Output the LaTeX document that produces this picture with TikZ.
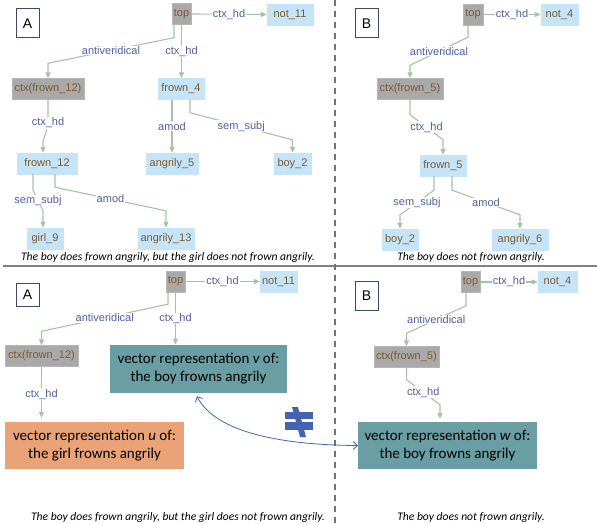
\documentclass[tikz,border=0pt]{standalone}
\usepackage{fontspec}
\setmainfont{Liberation Sans}
\newfontfamily\calfont{Carlito}
\usetikzlibrary{arrows.meta}
\definecolor{nodegray}{RGB}{169,169,169}
\definecolor{nodeblue}{RGB}{198,228,248}
\definecolor{nodebrown}{RGB}{125,90,45}
\definecolor{edgegreen}{RGB}{163,196,160}
\definecolor{lblblue}{RGB}{79,96,163}
\definecolor{panelblue}{RGB}{59,74,107}
\definecolor{vteal}{RGB}{104,158,164}
\definecolor{vorange}{RGB}{233,163,118}
\definecolor{neqblue}{RGB}{68,100,178}
\begin{document}
\begin{tikzpicture}[x=1pt, y=-1pt, >={Triangle[length=6pt,width=5pt]},
    gnode/.style={fill=nodegray, draw=nodegray!85!white, text=nodebrown, minimum height=21pt, inner sep=0pt, font=\fontsize{11}{13}\selectfont},
    bnode/.style={gnode, fill=nodeblue, draw=nodeblue},
    dep/.style={->, draw=edgegreen, line width=1.1pt},
    lbl/.style={fill=white, inner sep=0.8pt, text=lblblue, font=\fontsize{11}{13}\selectfont},
    vbox/.style={minimum width=178pt, minimum height=47pt, align=center, inner sep=0pt, font=\calfont\fontsize{15}{18}\selectfont},
    capt/.style={font=\calfont\itshape\fontsize{11.6}{13}\selectfont},
    panel/.style={draw=panelblue, fill=white, line width=1pt, minimum width=23pt, inner sep=0pt, font=\fontsize{14}{16}\selectfont}]
\useasboundingbox (0,0) rectangle (597,524);

% separators
\draw[black!50, line width=1.5pt] (3,266)--(597,266);
\draw[black!55, line width=1.2pt, dash pattern=on 6pt off 5pt] (335,0)--(335,524);

% panel letters
\node[panel, minimum height=29pt] (pA) at (27.5,23.5) {A};
\node[panel, minimum height=29pt] (pB) at (366.5,23.5) {B};
\node[panel, minimum height=23pt] (pC) at (27.5,294.5) {A};
\node[panel, minimum height=29pt] (pD) at (366.5,295.5) {B};

% top left graph
\node[gnode, minimum width=19pt] (tA) at (181.5,14) {top};
\node[bnode, minimum width=46pt] (nA) at (290,14.5) {not\_11};
\node[gnode, minimum width=72pt] (cA) at (48,89) {ctx(frown\_12)};
\node[bnode, minimum width=46pt] (f4) at (181,89) {frown\_4};
\node[bnode, minimum width=52pt] (a5) at (172,163.5) {angrily\_5};
\node[bnode, minimum width=37pt] (b2) at (292.5,163.5) {boy\_2};
\node[bnode, minimum width=60pt] (f12) at (47,163.5) {frown\_12};
\node[bnode, minimum width=36pt] (g9) at (45,238.5) {girl\_9};
\node[bnode, minimum width=56pt] (a13) at (166,238.5) {angrily\_13};

\draw[dep] (tA.east) -- node[lbl]{ctx\_hd} (nA.west);
\draw[dep] ([xshift=-7.5pt]tA.south) -- ++(0,13) -- node[lbl]{antiveridical} ([yshift=15pt]cA.north) -- (cA.north);
\draw[dep] (tA.south) -- node[lbl]{ctx\_hd} (tA.south |- f4.north);
\draw[dep] ([xshift=-9pt]f4.south) -- node[lbl]{amod} (a5.north);
\draw[dep] ([xshift=9pt]f4.south) -- ++(0,13) -- node[lbl]{sem\_subj} ([yshift=13pt]b2.north) -- (b2.north);
\draw[dep] (cA.south) -- node[lbl, pos=.9]{ctx\_hd} ++(0,26) -- ([xshift=-4pt,yshift=12pt]f12.north) -- ([xshift=-4pt]f12.north);
\draw[dep] ([xshift=-14pt]f12.south) -- ++(0,16) -- node[lbl]{sem\_subj} ([xshift=-2pt,yshift=17pt]g9.north) -- ([xshift=-2pt]g9.north);
\draw[dep] ([xshift=8pt]f12.south) -- ++(0,13) -- node[lbl]{amod} ([yshift=17pt]a13.north) -- (a13.north);
\node[capt] (capA) at (168,257) {The boy does frown angrily, but the girl does not frown angrily.};

% top right graph
\node[gnode, minimum width=20pt] (tB) at (473,14.5) {top};
\node[bnode, minimum width=37pt] (nB) at (559.5,14.5) {not\_4};
\node[gnode, minimum width=66pt] (cB) at (410,89) {ctx(frown\_5)};
\node[bnode, minimum width=46pt] (f5) at (443,165.5) {frown\_5};
\node[bnode, minimum width=36pt] (b2B) at (400,239.5) {boy\_2};
\node[bnode, minimum width=56pt] (a6) at (520,239.5) {angrily\_6};

\draw[dep] (tB.east) -- node[lbl]{ctx\_hd} (nB.west);
\draw[dep] ([xshift=-5pt]tB.south) -- ++(0,12) -- node[lbl]{antiveridical} ([yshift=13pt]cB.north) -- (cB.north);
\draw[dep] (cB.south) -- ++(0,15) -- node[lbl]{ctx\_hd} ([yshift=15pt]f5.north) -- (f5.north);
\draw[dep] ([xshift=-9pt]f5.south) -- ++(0,14) -- node[lbl]{sem\_subj} ([yshift=14pt]b2B.north) -- (b2B.north);
\draw[dep] ([xshift=9pt]f5.south) -- ++(0,14) -- node[lbl]{amod} ([yshift=14pt]a6.north) -- (a6.north);
\node[capt] (capB) at (471,257) {The boy does not frown angrily.};

% bottom left graph
\node[gnode, minimum width=19pt] (tC) at (175.5,281.5) {top};
\node[bnode, minimum width=37pt] (nC) at (278.5,281.5) {not\_11};
\node[gnode, minimum width=73pt] (cC) at (41.5,356) {ctx(frown\_12)};
\node[vbox, fill=vteal, minimum width=177pt, minimum height=48pt] (vV) at (198.5,369) {vector representation {\itshape v} of:\\the boy frowns angrily};
\node[vbox, fill=vorange, minimum width=179pt] (vU) at (94.5,445.5) {vector representation {\itshape u} of:\\the girl frowns angrily};

\draw[dep] (tC.east) -- node[lbl]{ctx\_hd} (nC.west);
\draw[dep] ([xshift=-7.5pt]tC.south) -- ++(0,12) -- node[lbl]{antiveridical} ([yshift=14pt]cC.north) -- (cC.north);
\draw[dep] (tC.south) -- node[lbl]{ctx\_hd} (tC.south |- vV.north);
\draw[dep, shorten >=4pt] (cC.south) -- node[lbl]{ctx\_hd} (cC.south |- vU.north);
\node[capt] (capC) at (178,517) {The boy does frown angrily, but the girl does not frown angrily.};

% bottom right graph
\node[gnode, minimum width=19pt] (tD) at (470.5,282) {top};
\node[bnode, minimum width=39pt] (nD) at (557.5,282) {not\_4};
\node[gnode, minimum width=65pt] (cD) at (406.5,357) {ctx(frown\_5)};
\node[vbox, fill=vteal, minimum width=179pt] (vW) at (447.5,445.5) {vector representation {\itshape w} of:\\the boy frowns angrily};

\draw[dep] (tD.east) -- node[lbl]{ctx\_hd} (nD.west);
\draw[dep] ([xshift=-4.5pt]tD.south) -- ++(0,13) -- node[lbl]{antiveridical} ([yshift=13pt]cD.north) -- (cD.north);
\draw[dep, shorten >=3pt] (cD.south) -- ++(0,12) -- node[lbl]{ctx\_hd} ([xshift=-7.5pt,yshift=17pt]vW.north) -- ([xshift=-7.5pt]vW.north);
\node[capt] (capD) at (471,517) {The boy does not frown angrily.};

% u/v vs w comparison
\draw[neqblue, line width=0.8pt, {Straight Barb[length=4pt]}-{Straight Barb[length=4pt]}] (vW.west) .. controls (280,445) and (215,432) .. ([xshift=-1.5pt,yshift=-3pt]vV.south);
\fill[neqblue] (285,412) rectangle (313,419);
\fill[neqblue] (285,422) rectangle (313,430);
\fill[neqblue] (292,407) -- (298,407) -- (306,437) -- (300,437) -- cycle;
\end{tikzpicture}
\end{document}
